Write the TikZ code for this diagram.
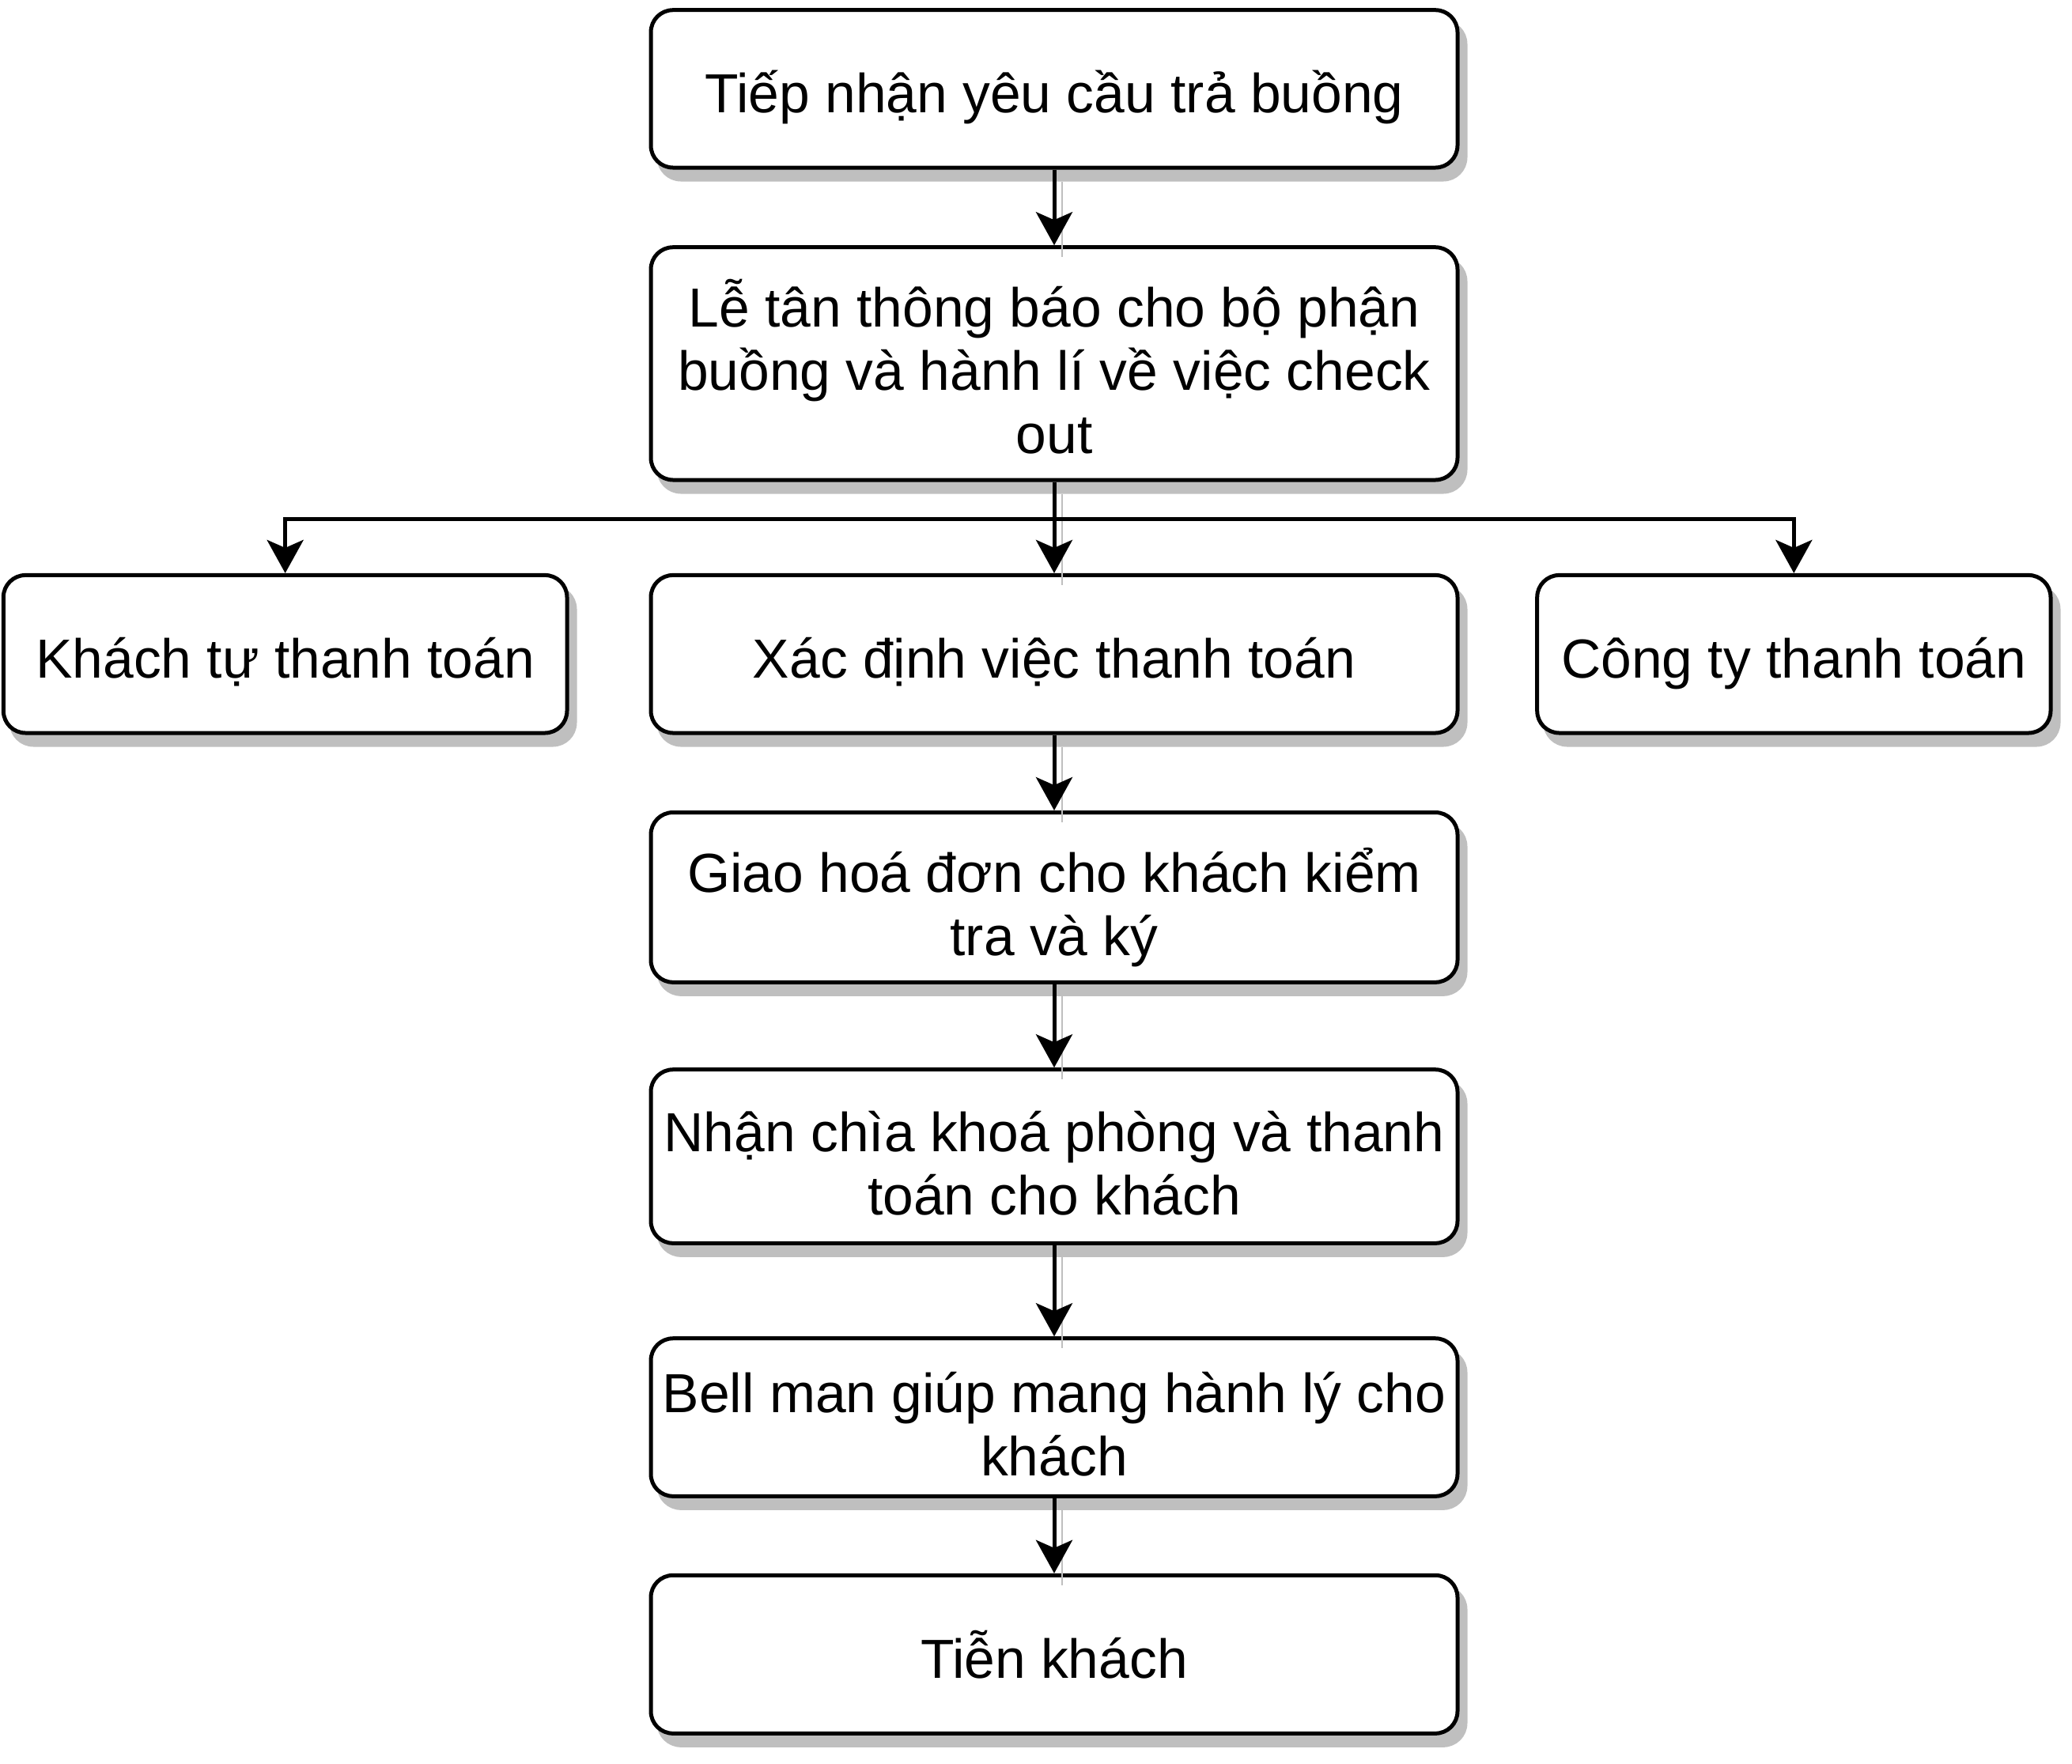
\documentclass[tikz,border=0pt]{standalone}
\usepackage{fontspec}
\setmainfont{Liberation Sans}
\usetikzlibrary{arrows.meta,positioning,shadows}
\newcommand{\topstrut}{\rule[-0.211\baselineskip]{0pt}{\dimexpr\baselineskip+4pt\relax}}
\newcommand{\linestrut}{\rule[-0.211\baselineskip]{0pt}{\baselineskip}}
\newcommand{\rowstrut}{\rule{0pt}{\dimexpr\baselineskip+1.2pt\relax}}

\begin{document}
\begin{tikzpicture}[
  font=\fontsize{19.8pt}{22.8pt}\selectfont,
  procbox/.style={draw, line width=0.05cm, rounded corners=0.28cm, align=center,
    inner xsep=2pt, inner ysep=0pt, minimum width=10.2cm, fill=white,
    drop shadow={shadow xshift=0.1cm, shadow yshift=-0.15cm,
      fill=black!25, draw=black!25, opacity=1},
    execute at begin node=\topstrut, execute at end node=\linestrut},
  arr/.style={-{Stealth[length=0.42cm, width=0.46cm, inset=0.1cm]}, line width=0.05cm},
  edgeshadow/.style={preaction={draw=black!25, -,
    transform canvas={shift={(0.1cm,-0.15cm)}}}}
]
  \useasboundingbox (0,0) rectangle (26.2,-22.3);

  \node[procbox, minimum height=1.993cm] (tiep) at (13.33,-1.1235) {Tiếp nhận yêu cầu trả buồng};
  \node[procbox, minimum height=2.943cm, below=0.957cm of tiep] (letan)
    {\rowstrut Lễ tân thông báo cho bộ phận\\buồng và hành lí về việc check\\out};
  \node[procbox, minimum height=1.996cm, below=1.154cm of letan] (xac) {Xác định việc thanh toán};
  \node[procbox, minimum height=1.996cm, minimum width=7.127cm, left=1.01cm of xac] (khach) {Khách tự thanh toán};
  \node[procbox, minimum height=1.996cm, minimum width=6.493cm, right=0.957cm of xac] (cty) {Công ty thanh toán};
  \node[procbox, minimum height=2.148cm, below=0.955cm of xac] (giao)
    {\rowstrut Giao hoá đơn cho khách kiểm\\tra và ký};
  \node[procbox, minimum height=2.196cm, below=1.054cm of giao] (nhan)
    {\rowstrut Nhận chìa khoá phòng và thanh\\toán cho khách};
  \node[procbox, minimum height=1.996cm, below=1.154cm of nhan] (bell)
    {\rowstrut Bell man giúp mang hành lý cho\\khách};
  \node[procbox, minimum height=2cm, below=0.95cm of bell] (tien) {Tiễn khách};

  % branch point under the notice step
  \coordinate[below=0.47cm of letan.south] (fork);

  \draw[arr, edgeshadow] (tiep) -- (letan);
  \draw[arr, edgeshadow] (letan) -- (xac);
  \draw[arr] (fork) -| (khach);
  \draw[arr] (fork) -| (cty);
  \draw[arr, edgeshadow] (xac) -- (giao);
  \draw[arr, edgeshadow] (giao) -- (nhan);
  \draw[arr, edgeshadow] (nhan) -- (bell);
  \draw[arr, edgeshadow] (bell) -- (tien);
\end{tikzpicture}
\end{document}
